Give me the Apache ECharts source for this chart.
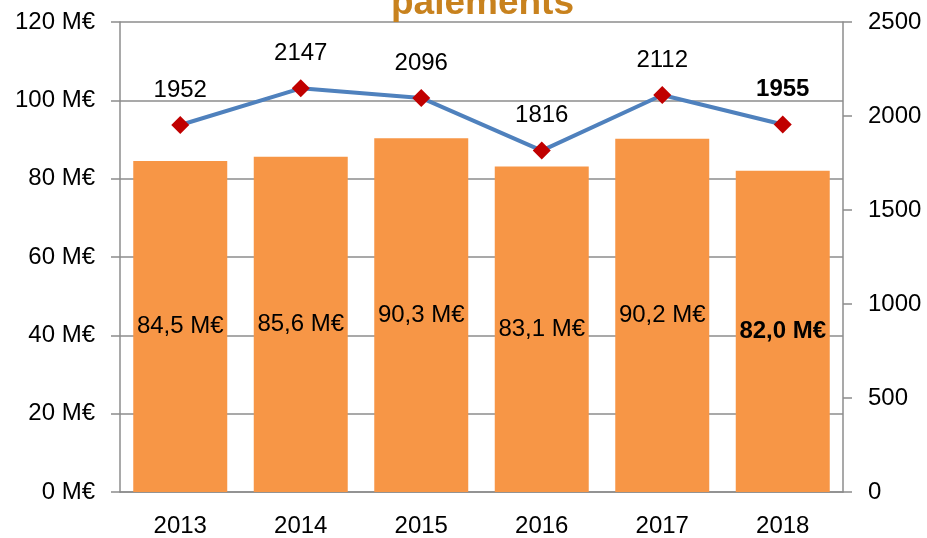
<!DOCTYPE html>
<html>
<head>
<meta charset="utf-8">
<script src="https://cdn.jsdelivr.net/npm/echarts@6/dist/echarts.min.js"></script>
<style>
  html, body { margin: 0; padding: 0; background: #fff; }
  #chart { width: 927px; height: 538px; }
</style>
</head>
<body>
<div id="chart"></div>
<script>
// données
const years = ['2013', '2014', '2015', '2016', '2017', '2018'];
const montants = [84.5, 85.6, 90.3, 83.1, 90.2, 82.0];   // M€
const nombres = [1952, 2147, 2096, 1816, 2112, 1955];
const leftTicks = [0, 20, 40, 60, 80, 100, 120];
const rightTicks = [0, 500, 1000, 1500, 2000, 2500];

const font = 'Liberation Sans, Arial, sans-serif';
const grey = '#8c8c8c';
const last = years.length - 1;

const chart = echarts.init(document.getElementById('chart'));

chart.setOption({
    animation: false,
    title: {
        text: 'paiements',
        left: 386,
        top: -20,
        textStyle: { color: '#C8821E', fontSize: 37, fontWeight: 'bold', fontFamily: font }
    },
    grid: { left: 120, right: 84, top: 22, bottom: 46 },
    xAxis: {
        type: 'category',
        data: years,
        axisLine: { lineStyle: { color: grey, width: 1.5 } },
        axisTick: { length: 8, lineStyle: { color: grey, width: 1.5 } },
        axisLabel: { color: '#000', fontSize: 24, fontFamily: font, margin: 22 }
    },
    yAxis: [{
        type: 'value',
        min: leftTicks[0],
        max: leftTicks[leftTicks.length - 1],
        interval: 20,
        axisLine: { show: true, lineStyle: { color: grey, width: 1.5 } },
        axisTick: { show: true, length: 9, lineStyle: { color: grey, width: 1.5 } },
        splitLine: { lineStyle: { color: grey, width: 1.5 } },
        axisLabel: { color: '#000', fontSize: 24, fontFamily: font, margin: 25,
            formatter: v => v + ' M€' }
    }, {
        type: 'value',
        min: rightTicks[0],
        max: rightTicks[rightTicks.length - 1],
        interval: 500,
        axisLine: { show: true, lineStyle: { color: grey, width: 1.5 } },
        axisTick: { show: true, length: 9, lineStyle: { color: grey, width: 1.5 } },
        splitLine: { show: false },
        axisLabel: { color: '#000', fontSize: 24, fontFamily: font, margin: 25,
            formatter: v => String(v) }
    }],
    series: [{
        type: 'bar',
        data: montants.map((v, i) => ({
            value: v,
            label: { fontWeight: i === last ? 'bold' : 'normal' }
        })),
        barCategoryGap: '22%',
        itemStyle: { color: '#F79646' },
        label: {
            show: true,
            position: 'inside',
            color: '#000',
            fontSize: 24,
            fontFamily: font,
            formatter: p => p.value.toFixed(1).replace('.', ',') + ' M€'
        }
    }, {
        type: 'line',
        yAxisIndex: 1,
        data: nombres.map((v, i) => ({
            value: v,
            label: { fontWeight: i === last ? 'bold' : 'normal' }
        })),
        symbol: 'diamond',
        symbolSize: 18,
        lineStyle: { color: '#4F81BD', width: 4 },
        itemStyle: { color: '#C00000' },
        label: {
            show: true,
            position: 'top',
            distance: 14,
            color: '#000',
            fontSize: 24,
            fontFamily: font
        },
        z: 5
    }]
});
</script>
</body>
</html>
